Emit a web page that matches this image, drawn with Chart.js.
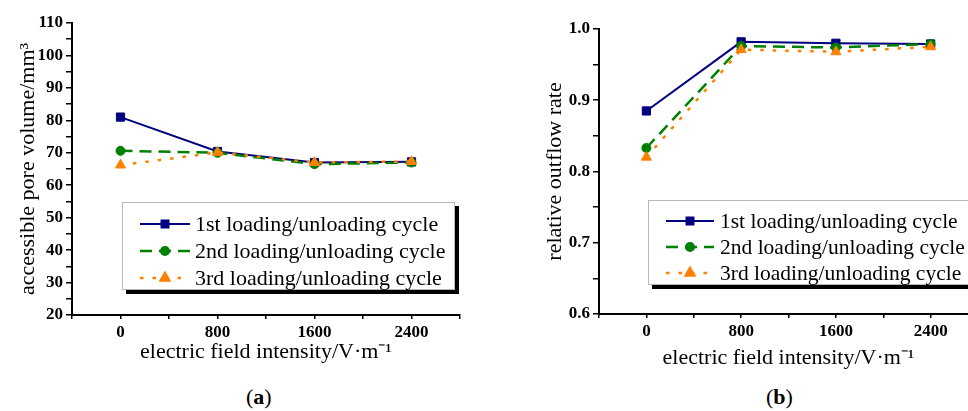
<!DOCTYPE html>
<html><head><meta charset="utf-8">
<script src="https://cdn.jsdelivr.net/npm/chart.js@4.4.1/dist/chart.umd.min.js"></script>
<style>
html,body{margin:0;padding:0;background:#fff;width:968px;height:411px;overflow:hidden;position:relative;font-family:"Liberation Serif",serif;}
#wa{position:absolute;left:0;top:0;width:480px;height:378px;}
#wb{position:absolute;left:530px;top:0;width:470px;height:378px;}
.cap{position:absolute;top:384px;font:22px "Liberation Serif",serif;color:#000;}
.cap b{font-weight:bold;}
</style></head>
<body>
<div id="wa"><canvas id="ca"></canvas></div>
<div id="wb"><canvas id="cb"></canvas></div>
<div class="cap" style="left:246px">(<b>a</b>)</div>
<div class="cap" style="left:766px">(<b>b</b>)</div>
<script>
// ---- data ----
const fieldIntensity = [0, 800, 1600, 2400];
const xTickLabels = ['0', '800', '1600', '2400'];
const seriesNames = ['1st loading/unloading cycle', '2nd loading/unloading cycle', '3rd loading/unloading cycle'];
const poreVolume1 = [81.0, 70.4, 67.0, 67.2];
const poreVolume2 = [70.6, 70.0, 66.5, 67.0];
const poreVolume3 = [66.2, 70.1, 67.0, 67.3];
const outflow1 = [0.885, 0.982, 0.980, 0.979];
const outflow2 = [0.833, 0.976, 0.974, 0.979];
const outflow3 = [0.820, 0.971, 0.968, 0.975];
const yTicksA = [20, 30, 40, 50, 60, 70, 80, 90, 100, 110];
const yTicksB = [0.6, 0.7, 0.8, 0.9, 1.0];

const FONT = '"Liberation Serif"';
const styles = [
  {color:'#000080', dash:[], pointStyle:'rect', r:5.8, w:2},
  {color:'#008000', dash:[12,7], pointStyle:'circle', r:4.5, w:2.5},
  {color:'#FF8000', dash:[3.5,9], pointStyle:'triangle', r:5.8, w:2.5}
];

const boxLegend = {
  id:'boxLegend',
  afterDraw(chart, args, o){
    const ca = chart.chartArea, ctx = chart.ctx;
    const bx = ca.left + o.dx, by = ca.top + o.dy;
    ctx.save();
    ctx.fillStyle = '#000'; ctx.fillRect(bx+4, by+4, o.w, o.h);
    ctx.fillStyle = '#fff'; ctx.fillRect(bx, by, o.w, o.h);
    ctx.strokeStyle = '#b8b8b8'; ctx.lineWidth = 1; ctx.strokeRect(bx+0.5, by+0.5, o.w-1, o.h-1);
    seriesNames.forEach((name, i) => {
      const s = styles[i];
      const yy = by + o.row0 + i*o.gap;
      ctx.strokeStyle = s.color; ctx.lineWidth = s.w; ctx.setLineDash(s.dash);
      ctx.beginPath(); ctx.moveTo(bx+o.l0, yy); ctx.lineTo(bx+o.l1, yy); ctx.stroke();
      ctx.setLineDash([]);
      ctx.fillStyle = s.color; ctx.strokeStyle = s.color;
      Chart.helpers.drawPoint(ctx, {pointStyle:s.pointStyle, radius:s.r*0.85, borderWidth:1, rotation:0}, bx+(o.l0+o.l1)/2, yy);
      ctx.fillStyle = '#000'; ctx.font = o.fs + 'px ' + FONT; ctx.textBaseline = 'middle'; ctx.textAlign = 'left';
      ctx.fillText(name, bx+o.tx, yy+1);
    });
    ctx.restore();
  }
};

function makeChart(id, values, yMin, yMax, yStep, yTicks, yTitle, cfg){
  const datasets = values.map((arr, i) => ({
    label: seriesNames[i],
    data: fieldIntensity.map((x, k) => ({x, y: arr[k]})),
    borderColor: styles[i].color, backgroundColor: styles[i].color,
    borderWidth: styles[i].w, borderDash: styles[i].dash,
    pointStyle: styles[i].pointStyle, pointRadius: styles[i].r,
    pointBorderWidth: 1, pointBorderColor: styles[i].color, pointBackgroundColor: styles[i].color,
    tension: 0, order: 2 - i
  }));
  return new Chart(document.getElementById(id), {
    type:'line',
    data:{datasets},
    plugins:[boxLegend],
    options:{
      responsive:true, maintainAspectRatio:false, animation:false,
      layout:{padding:{left:0, right:cfg.padR, top:cfg.padT, bottom:0}},
      plugins:{legend:{display:false}, tooltip:{enabled:false}, boxLegend:cfg.legend},
      scales:{
        x:{type:'linear', min:-400, max:2800,
          afterFit(s){ s.height = cfg.xH; },
          ticks:{stepSize:400, autoSkip:false, maxRotation:0, padding:3, color:'#000',
            font:{family:FONT, size:17, weight:'bold'},
            callback(v){ const k = fieldIntensity.indexOf(v); return k >= 0 ? xTickLabels[k] : ''; }},
          grid:{drawOnChartArea:false, drawTicks:true, tickLength:4, color:'#000', lineWidth:1.5},
          border:{display:true, color:'#000', width:2},
          title:{display:true, text:'electric field intensity/V·m⁻¹', color:'#000',
            font:{family:FONT, size:22}, padding:{top:0, bottom:cfg.xTitlePad}}
        },
        y:{type:'linear', min:yMin, max:yMax,
          afterFit(s){ s.width = cfg.yW; },
          ticks:{stepSize:yStep, autoSkip:false, padding:3, color:'#000',
            font:{family:FONT, size:17, weight:'bold'},
            callback(v){ const t = yTicks.find(q => Math.abs(q - v) < 1e-6); return t === undefined ? '' : t.toFixed(cfg.dec); }},
          grid:{drawOnChartArea:false, drawTicks:true, tickLength:6, color:'#000', lineWidth:1.5},
          border:{display:true, color:'#000', width:2},
          title:{display:true, text:yTitle, color:'#000',
            font:{family:FONT, size:22}, padding:{top:cfg.yTitlePad, bottom:0}}
        }
      }
    }
  });
}

makeChart('ca', [poreVolume1, poreVolume2, poreVolume3], 20, 110, 5, yTicksA,
  'accessible pore volume/mm³',
  {padR:20, padT:23, xH:63, yW:72, xTitlePad:13, yTitlePad:15, dec:0,
   legend:{dx:50, dy:179, w:333, h:88, row0:22, gap:27, l0:18, l1:68, tx:73, fs:22}});

makeChart('cb', [outflow1, outflow2, outflow3], 0.6, 1.0, 0.05, yTicksB,
  'relative outflow rate',
  {padR:22, padT:29, xH:64, yW:69, xTitlePad:7, yTitlePad:12, dec:1,
   legend:{dx:49, dy:171, w:370, h:85, row0:21, gap:26, l0:18, l1:66, tx:72, fs:21.5}});
</script>
</body></html>
